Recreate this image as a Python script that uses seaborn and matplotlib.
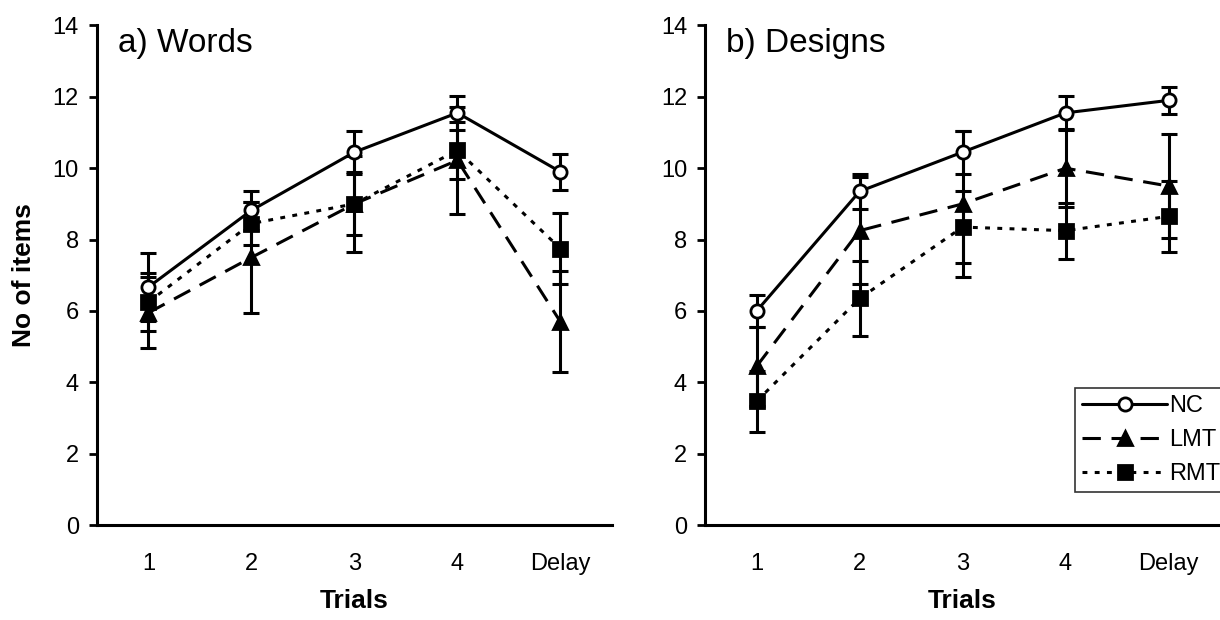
import matplotlib
matplotlib.use("Agg")
import matplotlib.pyplot as plt
import seaborn as sns
import pandas as pd

# values (means with error bars)
trials = [1, 2, 3, 4, 5]
trial_labels = ["1", "2", "3", "4", "Delay"]
groups = ["NC", "LMT", "RMT"]

words_nc = [6.67, 8.82, 10.45, 11.55, 9.9]
words_nc_err = [0.95, 0.55, 0.6, 0.47, 0.5]
words_lmt = [5.95, 7.5, 9.0, 10.22, 5.7]
words_lmt_err = [1.0, 1.55, 1.35, 1.5, 1.42]
words_rmt = [6.25, 8.45, 9.0, 10.5, 7.75]
words_rmt_err = [0.8, 0.6, 0.88, 0.8, 1.0]

designs_nc = [6.0, 9.35, 10.45, 11.55, 11.9]
designs_nc_err = [0.45, 0.5, 0.6, 0.47, 0.38]
designs_lmt = [4.45, 8.25, 9.0, 10.0, 9.5]
designs_lmt_err = [1.1, 1.5, 2.05, 1.1, 1.45]
designs_rmt = [3.47, 6.35, 8.35, 8.25, 8.65]
designs_rmt_err = [0.85, 1.05, 1.0, 0.78, 1.0]

sns.set_theme(style="ticks")
plt.rcParams['font.family'] = ['Liberation Sans', 'DejaVu Sans']
plt.rcParams['text.color'] = 'black'
plt.rcParams['axes.labelcolor'] = 'black'
plt.rcParams['xtick.color'] = 'black'
plt.rcParams['ytick.color'] = 'black'

styles = {
    "NC": dict(marker="o", markerfacecolor="white", markersize=9.5, dashes=None),
    "LMT": dict(marker="^", markerfacecolor="black", markersize=10.5, dashes=(6, 3.5)),
    "RMT": dict(marker="s", markerfacecolor="black", markersize=10, dashes=(1.6, 2.4)),
}


def make_df(nc, lmt, rmt, nc_e, lmt_e, rmt_e):
    rows = []
    for g, vals, errs in zip(groups, [nc, lmt, rmt], [nc_e, lmt_e, rmt_e]):
        for t, v, e in zip(trials, vals, errs):
            rows.append({"trial": t, "score": v, "err": e, "group": g})
    return pd.DataFrame(rows)


def draw_panel(ax, df, title):
    for g in groups:
        sub = df[df.group == g]
        st = styles[g]
        ax.errorbar(sub.trial, sub.score, yerr=sub.err, fmt="none", ecolor="black",
                    elinewidth=2.2, capsize=5.5, capthick=2.2, zorder=2)
        sns.lineplot(data=sub, x="trial", y="score", ax=ax, color="black", lw=2.2,
                     marker=st["marker"], markersize=st["markersize"],
                     markerfacecolor=st["markerfacecolor"], markeredgecolor="black",
                     markeredgewidth=2, label=g, zorder=3)
        if st["dashes"] is not None:
            ax.lines[-1].set_dashes(st["dashes"])
    ax.set_xlim(0.5, 5.5)
    ax.set_ylim(0, 14)
    ax.set_yticks(range(0, 15, 2))
    ax.set_xticks(trials)
    ax.set_xticklabels(trial_labels)
    ax.tick_params(axis="y", length=6, width=2, labelsize=17, pad=7)
    ax.tick_params(axis="x", length=0, labelsize=17, pad=20)
    for side in ["left", "bottom"]:
        ax.spines[side].set_linewidth(2.2)
        ax.spines[side].set_color("black")
    sns.despine(ax=ax)
    ax.set_xlabel("Trials", fontsize=19, fontweight="bold", labelpad=10)
    ax.set_ylabel("")
    ax.text(0.70, 13.5, title, fontsize=24, va="center", ha="left")


fig = plt.figure(figsize=(12.2, 6.2), dpi=100)
ax1 = fig.add_axes([0.0795, 0.153, 0.422, 0.806])
ax2 = fig.add_axes([0.578, 0.153, 0.422, 0.806])

words = make_df(words_nc, words_lmt, words_rmt, words_nc_err, words_lmt_err, words_rmt_err)
designs = make_df(designs_nc, designs_lmt, designs_rmt, designs_nc_err, designs_lmt_err, designs_rmt_err)

draw_panel(ax1, words, "a) Words")
draw_panel(ax2, designs, "b) Designs")

ax1.set_ylabel("No of items", fontsize=19, fontweight="bold", labelpad=12)
if ax1.get_legend() is not None:
    ax1.get_legend().remove()

leg = ax2.legend(loc="lower right", bbox_to_anchor=(1.015, 0.066), borderaxespad=0,
                 fontsize=17, handlelength=3.6, handletextpad=0.1, frameon=True,
                 fancybox=False, edgecolor="black", labelspacing=0.5, borderpad=0.3)
leg.get_frame().set_linewidth(1.2)

fig.savefig("out.png", dpi=100)
